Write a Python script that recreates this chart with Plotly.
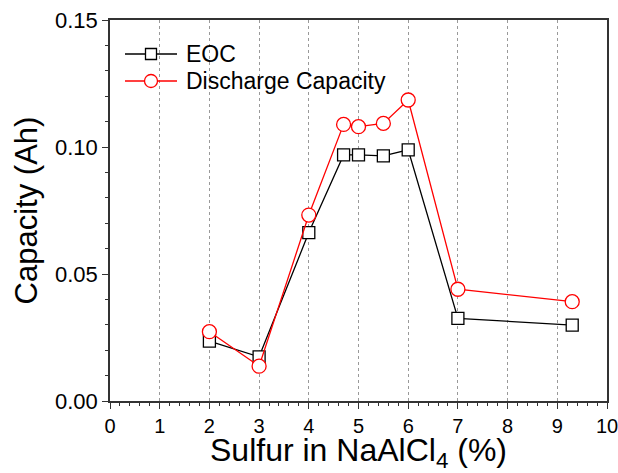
import plotly.graph_objects as go

# Sulfur content (%) and measured capacities (Ah)
sulfur_pct = [2, 3, 4, 4.7, 5, 5.5, 6, 7, 9.3]
eoc_ah = [0.0236, 0.0174, 0.0663, 0.0969, 0.0969, 0.0965, 0.0989, 0.0325, 0.0299]
discharge_ah = [0.0273, 0.0137, 0.0732, 0.1089, 0.1080, 0.1093, 0.1185, 0.0440, 0.0391]

series_names = ["EOC", "Discharge Capacity"]
series_colors = ["black", "red"]
series_symbols = ["square", "circle"]

x_ticks = list(range(0, 11))
y_ticks = [0.00, 0.05, 0.10, 0.15]

FONT = "Liberation Sans, Arial, sans-serif"
W, H = 618, 473
M = dict(l=110, r=11, t=20, b=72)
PLOT_W = W - M["l"] - M["r"]
PLOT_H = H - M["t"] - M["b"]


def px_to_paper(px, py):
    """Convert page pixel position to paper coordinates of the plot area."""
    return (px - M["l"]) / PLOT_W, (H - M["b"] - py) / PLOT_H


fig = go.Figure()
fig.add_trace(go.Scatter(
    x=sulfur_pct, y=eoc_ah, name=series_names[0], mode="lines+markers",
    line=dict(color=series_colors[0], width=1.3),
    marker=dict(symbol="square", size=12, color="white",
                line=dict(color=series_colors[0], width=1.3)),
    showlegend=False,
))
fig.add_trace(go.Scatter(
    x=sulfur_pct, y=discharge_ah, name=series_names[1], mode="lines+markers",
    line=dict(color=series_colors[1], width=1.3),
    marker=dict(symbol="circle", size=14, color="white",
                line=dict(color=series_colors[1], width=1.3)),
    showlegend=False,
))

# Legend drawn as shapes + text: long line sample with the marker in its middle
shapes = []
annotations = []
for i, (name, color, sym) in enumerate(zip(series_names, series_colors, series_symbols)):
    cy = 54 + i * 27
    x0, y0 = px_to_paper(125, cy)
    x1, _ = px_to_paper(177, cy)
    xm, _ = px_to_paper(151, cy)
    shapes.append(dict(type="line", xref="paper", yref="paper",
                       x0=x0, x1=x1, y0=y0, y1=y0,
                       line=dict(color=color, width=1.3), layer="above"))
    half = 5.5 if sym == "square" else 6.5
    shapes.append(dict(type="rect" if sym == "square" else "circle",
                       xref="paper", yref="paper",
                       xsizemode="pixel", ysizemode="pixel",
                       xanchor=xm, yanchor=y0,
                       x0=-half, x1=half, y0=-half, y1=half,
                       fillcolor="white", line=dict(color=color, width=1.3),
                       layer="above"))
    tx, _ = px_to_paper(184, cy)
    annotations.append(dict(text=name, xref="paper", yref="paper",
                            x=tx, y=y0, xanchor="left", yanchor="middle",
                            showarrow=False,
                            font=dict(family=FONT, size=23, color="black")))

axis_common = dict(
    showline=True, linecolor="#333333", linewidth=1.6, mirror=True,
    ticks="outside", tickcolor="#333333", ticklen=6, tickwidth=1.3,
    zeroline=False, automargin=False, ticklabeloverflow="allow",
)

fig.update_layout(
    width=W, height=H,
    margin=M,
    plot_bgcolor="white", paper_bgcolor="white",
    font=dict(family=FONT, color="black"),
    showlegend=False,
    shapes=shapes,
    annotations=annotations,
    xaxis=dict(
        range=[0, 10], tickvals=x_ticks, ticktext=[str(v) for v in x_ticks],
        tickfont=dict(family=FONT, size=20, color="black"),
        showgrid=True, gridcolor="#999999", griddash="dot", gridwidth=1,
        minor=dict(dtick=0.2, ticks="outside", ticklen=3, tickcolor="#333333", showgrid=False),
        title=dict(text="Sulfur in NaAlCl<sub>4</sub> (%)",
                   font=dict(family=FONT, size=32, color="black"), standoff=14),
        **axis_common,
    ),
    yaxis=dict(
        range=[0, 0.15], tickvals=y_ticks, ticktext=[f"{v:.2f}" for v in y_ticks],
        tickfont=dict(family=FONT, size=22, color="black"),
        showgrid=False,
        minor=dict(dtick=0.01, ticks="outside", ticklen=3, tickcolor="#333333", showgrid=False),
        title=dict(text="Capacity (Ah)",
                   font=dict(family=FONT, size=31, color="black"), standoff=8),
        **axis_common,
    ),
)

fig.write_html("out.html")
